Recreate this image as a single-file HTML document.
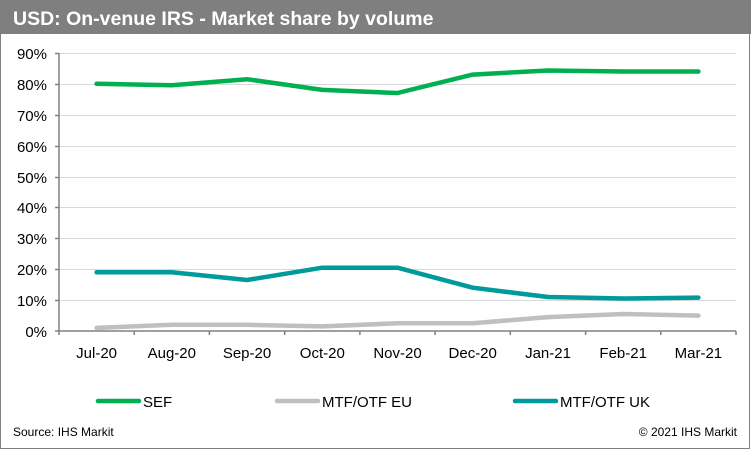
<!DOCTYPE html>
<html><head><style>
body{margin:0;width:751px;height:450px;background:#fff;overflow:hidden}
svg{display:block;font-family:"Liberation Sans",Arial,sans-serif}
</style></head><body>
<svg width="751" height="450" viewBox="0 0 751 450">
<rect x="0.5" y="0.5" width="749" height="448" fill="#fff" stroke="#808080"/>
<rect x="0" y="0" width="751" height="34" fill="#7f7f7f"/>
<text x="13" y="25" fill="#fff" font-size="19.5" font-weight="bold">USD:  On-venue IRS - Market share by volume</text>
<g stroke="#d9d9d9" stroke-width="1">
<line x1="59" x2="736" y1="53.5" y2="53.5"/>
<line x1="59" x2="736" y1="84.5" y2="84.5"/>
<line x1="59" x2="736" y1="115.5" y2="115.5"/>
<line x1="59" x2="736" y1="146.5" y2="146.5"/>
<line x1="59" x2="736" y1="177.5" y2="177.5"/>
<line x1="59" x2="736" y1="207.5" y2="207.5"/>
<line x1="59" x2="736" y1="238.5" y2="238.5"/>
<line x1="59" x2="736" y1="269.5" y2="269.5"/>
<line x1="59" x2="736" y1="300.5" y2="300.5"/>
</g>
<g stroke="#808080" stroke-width="1.5" fill="none">
<path d="M59 53V331H736"/>
<path d="M55 53.5H59M55 84.5H59M55 115.5H59M55 146.5H59M55 177.5H59M55 207.5H59M55 238.5H59M55 269.5H59M55 300.5H59M55 331H59"/>
<path d="M59 331v4M134.2 331v4M209.4 331v4M284.7 331v4M359.9 331v4M435.1 331v4M510.3 331v4M585.6 331v4M660.8 331v4M736 331v4"/>
</g>
<g font-size="15" fill="#000" text-anchor="end">
<text x="47" y="59">90%</text><text x="47" y="90">80%</text><text x="47" y="121">70%</text>
<text x="47" y="152">60%</text><text x="47" y="183">50%</text><text x="47" y="213">40%</text>
<text x="47" y="244">30%</text><text x="47" y="275">20%</text><text x="47" y="306">10%</text>
<text x="47" y="337">0%</text>
</g>
<g font-size="15" fill="#000" text-anchor="middle">
<text x="96.6" y="358">Jul-20</text><text x="171.8" y="358">Aug-20</text><text x="247" y="358">Sep-20</text>
<text x="322.3" y="358">Oct-20</text><text x="397.5" y="358">Nov-20</text><text x="472.7" y="358">Dec-20</text>
<text x="548" y="358">Jan-21</text><text x="623.2" y="358">Feb-21</text><text x="698.4" y="358">Mar-21</text>
</g>
<g fill="none" stroke-width="4.5" stroke-linejoin="round" stroke-linecap="round">
<polyline stroke="#bfbfbf" points="96.6,327.9 171.8,324.8 247,324.8 322.3,326.4 397.5,323.3 472.7,323.3 548,317.1 623.2,314 698.4,315.6"/>
<polyline stroke="#009a9a" points="96.6,272.3 171.8,272.3 247,280 322.3,267.7 397.5,267.7 472.7,287.7 548,297 623.2,298.5 698.4,297.6"/>
<polyline stroke="#00b050" points="96.6,83.8 171.8,85.3 247,79.2 322.3,89.9 397.5,93 472.7,74.6 548,70.5 623.2,71.5 698.4,71.5"/>
</g>
<g stroke-width="4.5" stroke-linecap="round">
<line x1="98" x2="139" y1="401" y2="401" stroke="#00b050"/>
<line x1="277" x2="318" y1="401" y2="401" stroke="#bfbfbf"/>
<line x1="515" x2="556" y1="401" y2="401" stroke="#009a9a"/>
</g>
<g font-size="15" fill="#000">
<text x="143" y="407">SEF</text>
<text x="322" y="407">MTF/OTF EU</text>
<text x="560" y="407">MTF/OTF UK</text>
</g>
<text x="13" y="436" font-size="12" fill="#000">Source: IHS Markit</text>
<text x="737" y="436" font-size="12" fill="#000" text-anchor="end">© 2021 IHS Markit</text>
</svg>
</body></html>
